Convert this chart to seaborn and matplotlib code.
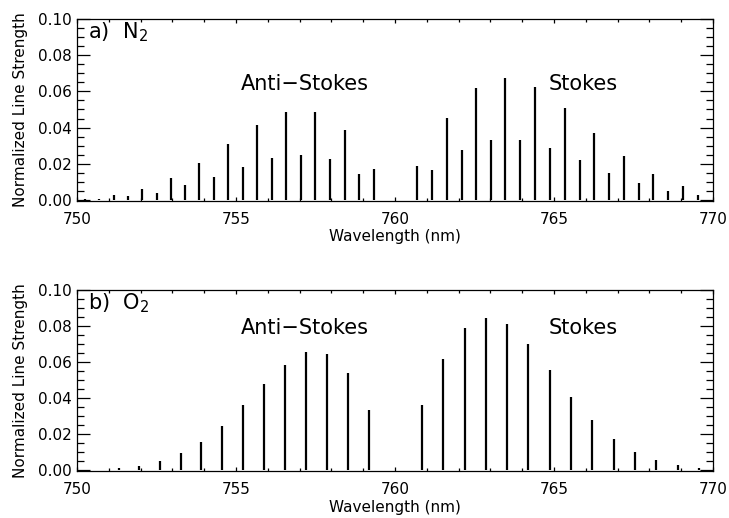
import numpy as np
import pandas as pd
import seaborn as sns
import matplotlib
matplotlib.use("Agg")
import matplotlib.pyplot as plt
from matplotlib.ticker import MultipleLocator

# ---- data ----
n2_wavelength = [750.25, 750.70, 751.15, 751.60, 752.05, 752.50, 752.96, 753.41,
                 753.85, 754.31, 754.76, 755.21, 755.66, 756.12, 756.57, 757.03,
                 757.49, 757.96, 758.42, 758.87, 759.33,
                 760.70, 761.16, 761.64, 762.10, 762.56, 763.01, 763.47, 763.94,
                 764.40, 764.87, 765.34, 765.81, 766.27, 766.73, 767.20, 767.66,
                 768.12, 768.59, 769.06, 769.54]
n2_strength = [0.0005, 0.0003, 0.0030, 0.0020, 0.0060, 0.0040, 0.0120, 0.0080,
               0.0205, 0.0125, 0.0310, 0.0180, 0.0415, 0.0230, 0.0488, 0.0250,
               0.0488, 0.0225, 0.0387, 0.0145, 0.0172,
               0.0188, 0.0166, 0.0453, 0.0275, 0.0621, 0.0332, 0.0675, 0.0332,
               0.0625, 0.0288, 0.0509, 0.0219, 0.0369, 0.0149, 0.0241, 0.0094,
               0.0144, 0.0052, 0.0076, 0.0028]

o2_wavelength = [750.67, 751.32, 751.96, 752.61, 753.26, 753.91, 754.57, 755.23,
                 755.88, 756.54, 757.19, 757.85, 758.52, 759.18,
                 760.85, 761.51, 762.19, 762.85, 763.51, 764.19, 764.86, 765.53,
                 766.20, 766.88, 767.55, 768.22, 768.89, 769.56]
o2_strength = [0.0005, 0.0013, 0.0026, 0.0051, 0.0095, 0.0158, 0.0248, 0.0360,
               0.0480, 0.0587, 0.0655, 0.0646, 0.0540, 0.0334,
               0.0360, 0.0618, 0.0787, 0.0846, 0.0809, 0.0701, 0.0558, 0.0409,
               0.0277, 0.0174, 0.0103, 0.0057, 0.0029, 0.0011]

panel_labels = ["a)  N$_2$", "b)  O$_2$"]
branch_labels = ["Anti\u2212Stokes", "Stokes"]
x_label = "Wavelength (nm)"
y_label = "Normalized Line Strength"

# ---- style ----
sns.set_theme(style="ticks")
plt.rcParams["font.family"] = ["DejaVu Sans"]
plt.rcParams["axes.linewidth"] = 0.9
plt.rcParams["text.color"] = "black"
plt.rcParams["axes.labelcolor"] = "black"
plt.rcParams["xtick.color"] = "black"
plt.rcParams["ytick.color"] = "black"

fig = plt.figure(figsize=(7.29, 5.18), dpi=100)
W, H = 729, 518
ax_top = fig.add_axes([77 / W, 1 - 200.5 / H, 636 / W, 181.5 / H])
ax_bot = fig.add_axes([77 / W, 1 - 471 / H, 636 / W, 181 / H])

datasets = [
    pd.DataFrame({"wavelength": n2_wavelength, "strength": n2_strength}),
    pd.DataFrame({"wavelength": o2_wavelength, "strength": o2_strength}),
]
branch_y = [0.0640, 0.0787]

for ax, df, lab, by in zip([ax_top, ax_bot], datasets, panel_labels, branch_y):
    ax.vlines(df["wavelength"], 0, df["strength"], color="black", linewidth=1.6)
    ax.set_xlim(750, 770)
    ax.set_ylim(-0.0003, 0.1)
    ax.xaxis.set_major_locator(MultipleLocator(5))
    ax.xaxis.set_minor_locator(MultipleLocator(1))
    ax.yaxis.set_major_locator(MultipleLocator(0.02))
    ax.yaxis.set_minor_locator(MultipleLocator(0.005))
    ax.yaxis.set_major_formatter(matplotlib.ticker.FormatStrFormatter("%.2f"))
    ax.tick_params(axis="both", which="both", direction="in",
                   top=True, right=True, labelsize=11, width=0.9)
    ax.tick_params(axis="y", which="major", length=9.2, pad=4)
    ax.tick_params(axis="y", which="minor", length=5)
    ax.tick_params(axis="x", which="major", length=3, pad=8)
    ax.tick_params(axis="x", which="minor", length=2)
    for sp in ax.spines.values():
        sp.set_color("black")
    ax.set_xlabel(x_label, fontsize=11, labelpad=2)
    ax.set_ylabel(y_label, fontsize=11, labelpad=7)
    ax.text(751.3, 0.0925, lab, fontsize=15, ha="center", va="center")
    ax.text(757.17, by, branch_labels[0], fontsize=15, ha="center", va="center")
    ax.text(765.93, by, branch_labels[1], fontsize=15, ha="center", va="center")

fig.savefig("out.png", dpi=100)
